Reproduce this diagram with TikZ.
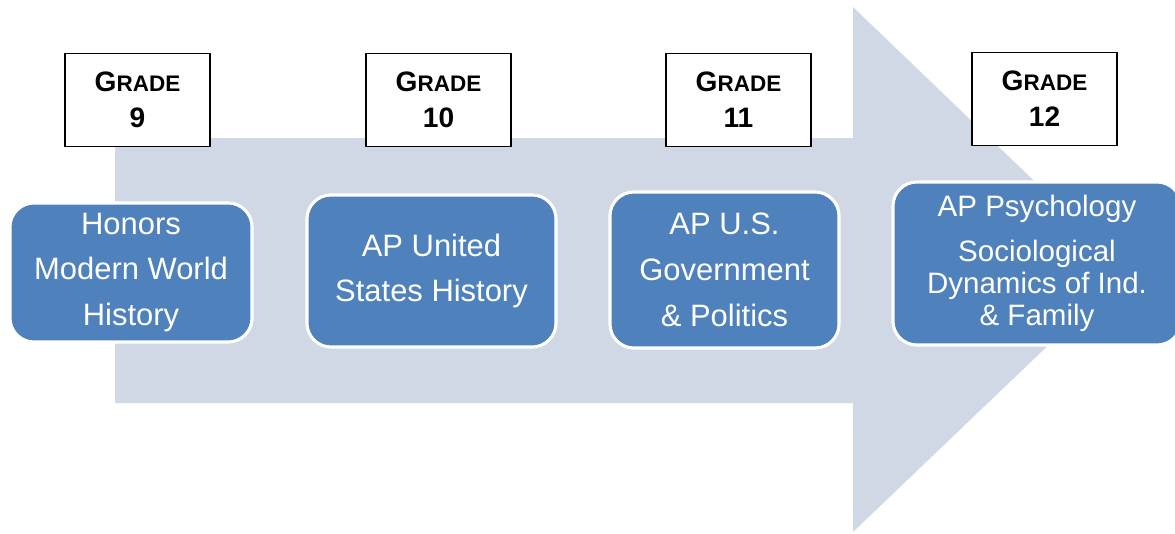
\documentclass[tikz,border=0pt]{standalone}
\usepackage{fontspec}
\setmainfont{Liberation Sans}
\definecolor{arrowgray}{HTML}{D0D8E6}
\definecolor{courseblue}{HTML}{4F81BD}
\tikzset{
  gradebox/.style={draw=black, line width=1.2pt, fill=white, minimum width=3.625cm,
    minimum height=2.325cm, align=center, font=\fontsize{20}{25.5}\selectfont\bfseries},
  course/.style={draw=white, line width=2.2pt, fill=courseblue, rounded corners=0.6cm,
    text=white, align=center, font=\fontsize{22}{32.6}\selectfont}
}
\newcommand{\grd}[1]{G{\fontsize{16}{25.5}\selectfont RADE}\\#1}
\begin{document}
\begin{tikzpicture}[x=0.025cm, y=-0.025cm]
    \useasboundingbox (0,0) rectangle (1175,533);
    % big arrow behind everything
    \fill[arrowgray] (115,138) -- (853,138) -- (853,7) -- (1127,270) -- (853,532)
        -- (853,403) -- (115,403) -- cycle;
    % grade labels
    \node[gradebox] (g9)  at (137.5,100) {\grd{9}};
    \node[gradebox] (g10) at (438.5,100) {\grd{10}};
    \node[gradebox] (g11) at (738.5,100) {\grd{11}};
    \node[gradebox] (g12) at (1044.5,99) {\grd{12}};
    % courses
    \node[course, minimum width=6.05cm, minimum height=3.475cm] (c9) at (131,272.5)
        {Honors\\Modern World\\History};
    \node[course, minimum width=6.225cm, minimum height=3.8cm] (c10) at (431.5,271)
        {AP United\\States History};
    \node[course, minimum width=5.725cm, minimum height=3.9cm] (c11) at (724.5,270)
        {AP U.S.\\Government\\\& Politics};
    \node[course, minimum width=7.2cm, minimum height=4.075cm,
        font=\fontsize{21}{22.7}\selectfont] (c12) at (1037,263.5)
        {AP Psychology\\[9pt]Sociological\\Dynamics of Ind.\\\& Family};
\end{tikzpicture}
\end{document}
